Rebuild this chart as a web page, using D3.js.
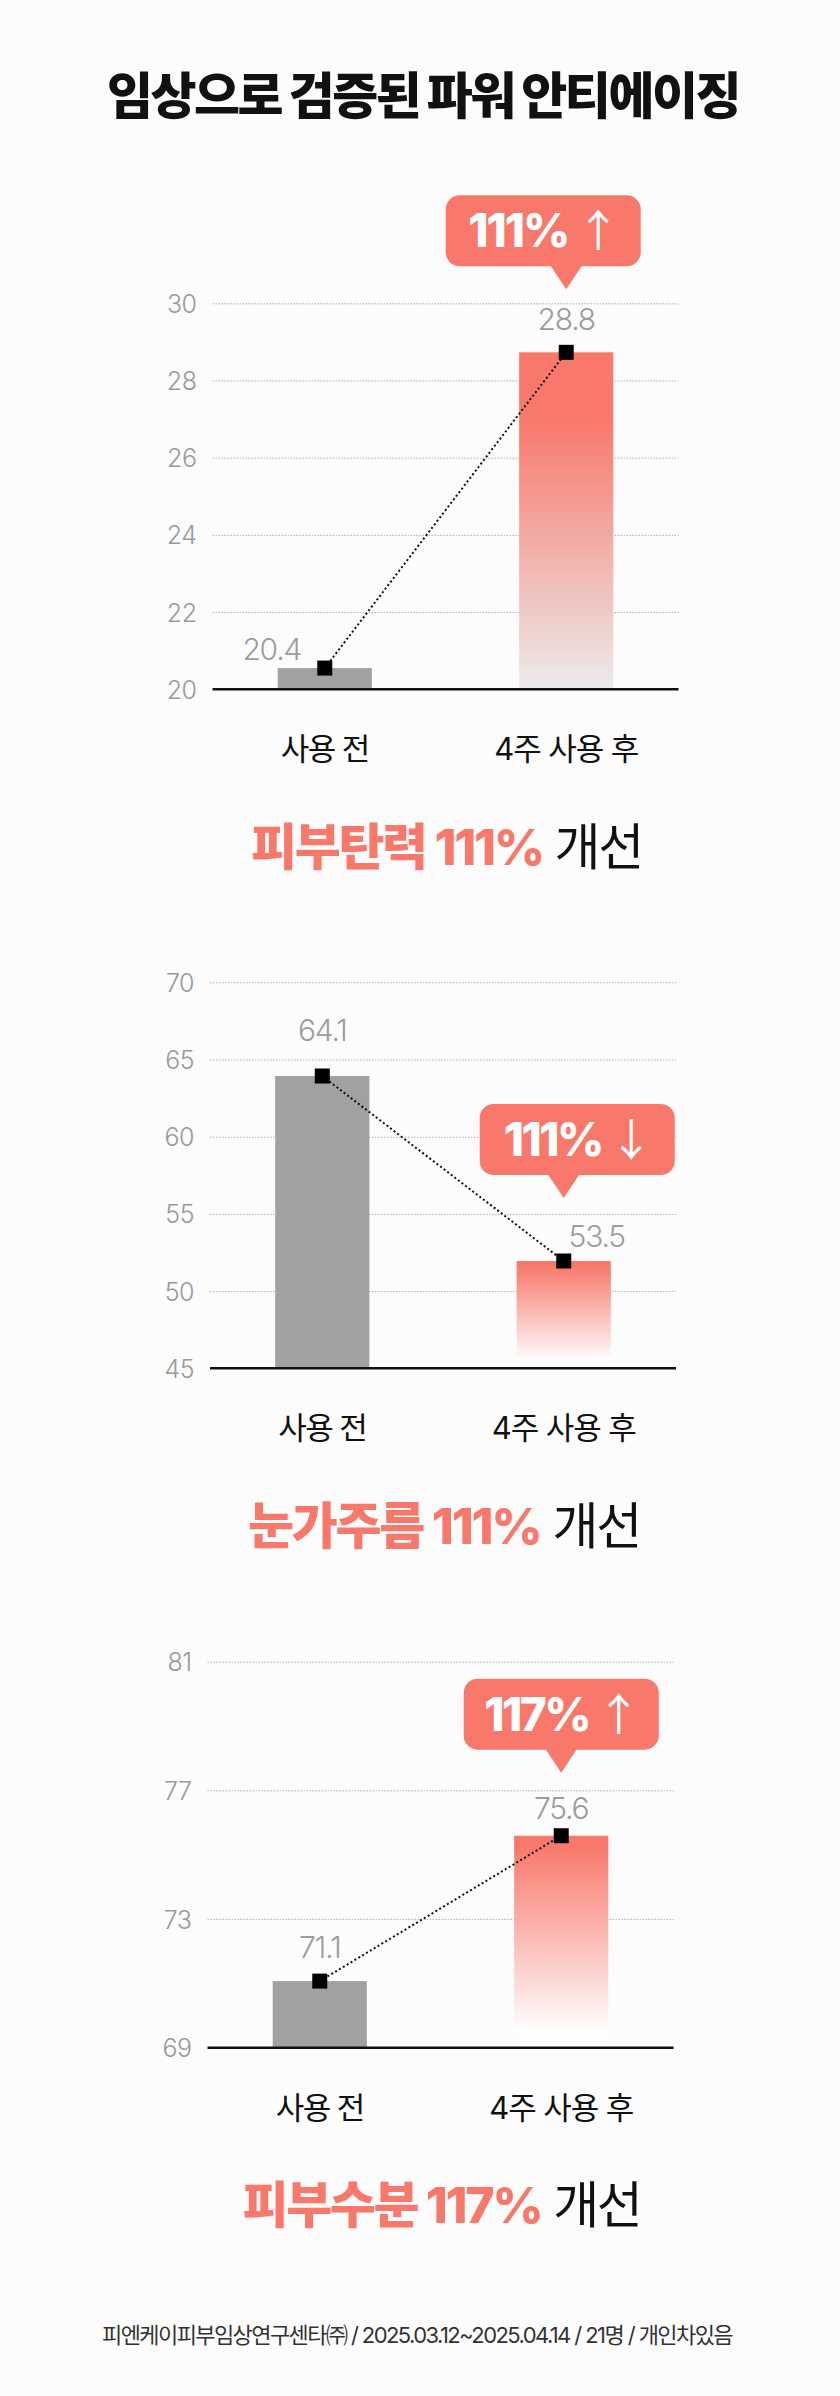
<!DOCTYPE html>
<html lang="ko">
<head>
<meta charset="utf-8">
<title>임상으로 검증된 파워 안티에이징</title>
<script src="https://cdn.jsdelivr.net/npm/d3@7"></script>
<style>
    html, body { margin: 0; padding: 0; background: #fcfcfc; }
    svg { display: block; }
</style>
</head>
<body>
<div id="chart"></div>
<script>
// ---- data ----
const mainTitle = '임상으로 검증된 파워 안티에이징';
const categories = ['사용 전', '4주 사용 후'];
const chartNames = ['피부탄력', '눈가주름', '피부수분'];
const chartRates = ['111%', '111%', '117%'];
const badgeArrows = ['↑', '↓', '↑'];
const barValues = [[20.55, 28.73], [63.93, 51.95], [71.07, 75.59]];
const valueLabels = [['20.4', '28.8'], ['64.1', '53.5'], ['71.1', '75.6']];
const yTicks = [[20, 22, 24, 26, 28, 30], [45, 50, 55, 60, 65, 70], [69, 73, 77, 81]];
const footnote = '피엔케이피부임상연구센타㈜ / 2025.03.12~2025.04.14 / 21명 / 개인차있음';

// ---- layout ----
const W = 840, H = 2396;
const CORAL = '#f8796c';
const FONT = 'Inter, "Noto Sans CJK KR", "Noto Sans", sans-serif';
const plotLeft = 210, plotRight = 676, plotH = 386;
const panels = [
    {top: 303.3, dx: 2.5, labelOff: [[-53, -19], [0, -33]], badgeDx: -23, titleW: 391, badgeW: 150,
        stops: [[0, CORAL], [0.2, CORAL], [1, '#ebebeb']]},
    {top: 982.3, dx: 0, labelOff: [[0, -46], [33, -25]], badgeDx: 13.5, titleW: 392, badgeW: 147,
        stops: [[0, CORAL], [0.05, CORAL], [0.92, '#fdfdfd']]},
    {top: 1661.7, dx: -2.5, labelOff: [[0, -34], [0, -28]], badgeDx: 0, titleW: 398, badgeW: 154,
        stops: [[0, CORAL], [0.05, CORAL], [0.92, '#fdfdfd']]}
];

const svg = d3.select('#chart')
    .append('svg')
    .attr('width', W)
    .attr('height', H);

svg.append('rect').attr('width', W).attr('height', H).attr('fill', '#fcfcfc');
const defs = svg.append('defs');

// squeeze / stretch a text element to a target width with letter-spacing
function fitWidth(sel, target) {
    const node = sel.node();
    const len = node.getComputedTextLength();
    const n = node.textContent.length;
    if (n > 1) sel.attr('letter-spacing', (target - len) / n);
    return sel;
}

// main title
fitWidth(svg.append('text')
    .attr('x', 423)
    .attr('y', 95 + 50 * 0.37)
    .attr('text-anchor', 'middle')
    .attr('font-family', FONT)
    .attr('font-size', 50)
    .attr('font-weight', 900)
    .attr('fill', '#111')
    .text(mainTitle), 632);

panels.forEach((p, i) => {
    const g = svg.append('g').attr('transform', `translate(${p.dx},0)`);
    const base = p.top + plotH;

    const x = d3.scaleBand()
        .domain(categories)
        .range([plotLeft, plotRight])
        .paddingInner(0.61)
        .paddingOuter(0.27);

    const ticks = yTicks[i];
    const y = d3.scaleLinear()
        .domain(d3.extent(ticks))
        .range([base, p.top]);

    // gradient for the "after" bar
    const grad = defs.append('linearGradient')
        .attr('id', `grad-${i}`)
        .attr('x1', 0).attr('y1', 0)
        .attr('x2', 0).attr('y2', 1);
    grad.selectAll('stop')
        .data(p.stops)
        .enter()
        .append('stop')
        .attr('offset', d => d[0])
        .attr('stop-color', d => d[1]);

    // grid lines + tick labels
    const axis = g.append('g')
        .attr('transform', `translate(${plotLeft},0)`)
        .call(d3.axisLeft(y)
            .tickValues(ticks)
            .tickSize(-(plotRight - plotLeft))
            .tickPadding(16)
            .tickFormat(d3.format('d')));
    axis.select('.domain').remove();
    axis.selectAll('.tick line')
        .attr('stroke', '#b0b0b0')
        .attr('stroke-width', 1)
        .attr('stroke-dasharray', '1.5,1.5')
        .filter(d => d === ticks[0]).remove();
    axis.selectAll('.tick text')
        .attr('font-family', FONT)
        .attr('font-size', 25)
        .attr('font-weight', 300)
        .attr('letter-spacing', -0.5)
        .attr('fill', '#999')
        .attr('dy', '0.36em');

    // bars
    g.selectAll('.bar')
        .data(categories)
        .enter()
        .append('rect')
        .attr('class', 'bar')
        .attr('x', d => x(d))
        .attr('width', x.bandwidth())
        .attr('y', (d, j) => y(barValues[i][j]))
        .attr('height', (d, j) => base - y(barValues[i][j]))
        .attr('fill', (d, j) => j === 0 ? '#a1a1a1' : `url(#grad-${i})`);

    // baseline
    g.append('line')
        .attr('x1', plotLeft).attr('x2', plotRight)
        .attr('y1', base).attr('y2', base)
        .attr('stroke', '#111')
        .attr('stroke-width', 2.5);

    // dotted connector + square markers
    const pts = categories.map((c, j) => [x(c) + x.bandwidth() / 2, y(barValues[i][j])]);
    g.append('path')
        .attr('d', d3.line()(pts))
        .attr('fill', 'none')
        .attr('stroke', '#111')
        .attr('stroke-width', 2)
        .attr('stroke-dasharray', '2,2.5');
    g.selectAll('.marker')
        .data(pts)
        .enter()
        .append('rect')
        .attr('class', 'marker')
        .attr('x', d => d[0] - 7.5)
        .attr('y', d => d[1] - 7.5)
        .attr('width', 15)
        .attr('height', 15)
        .attr('fill', '#000');

    // value labels
    g.selectAll('.value')
        .data(valueLabels[i])
        .enter()
        .append('text')
        .attr('class', 'value')
        .attr('x', (d, j) => pts[j][0] + p.labelOff[j][0])
        .attr('y', (d, j) => pts[j][1] + p.labelOff[j][1] + 30 * 0.36)
        .attr('text-anchor', 'middle')
        .attr('font-family', FONT)
        .attr('font-size', 30)
        .attr('font-weight', 300)
        .attr('letter-spacing', -1.2)
        .attr('fill', '#9c9c9c')
        .text(d => d);

    // badge with pointer
    const tipX = pts[1][0], tipY = pts[1][1] - 63;
    const bw = 195, bh = 71, cx = tipX + p.badgeDx;
    const bTop = tipY - 23 - bh;
    const badge = g.append('g');
    badge.append('rect')
        .attr('x', cx - bw / 2).attr('y', bTop)
        .attr('width', bw).attr('height', bh)
        .attr('rx', 14)
        .attr('fill', CORAL);
    badge.append('path')
        .attr('d', d3.line()([[tipX - 16, bTop + bh - 1], [tipX + 16, bTop + bh - 1], [tipX, tipY]]) + 'Z')
        .attr('fill', CORAL);
    const bt = badge.append('text')
        .attr('x', cx)
        .attr('y', bTop + bh / 2 + 46 * 0.36)
        .attr('text-anchor', 'middle')
        .attr('font-family', FONT)
        .attr('font-size', 46)
        .attr('fill', '#fff');
    bt.append('tspan').attr('font-weight', 800).text(chartRates[i] + ' ');
    bt.append('tspan')
        .attr('font-weight', 400)
        .attr('font-family', '"Noto Sans CJK KR", sans-serif')
        .attr('font-size', 44)
        .text(badgeArrows[i]);
    fitWidth(bt, p.badgeW);

    // category labels
    const xl = g.selectAll('.xlabel')
        .data(categories)
        .enter()
        .append('text')
        .attr('class', 'xlabel')
        .attr('x', d => x(d) + x.bandwidth() / 2)
        .attr('y', base + 60 + 30 * 0.36)
        .attr('text-anchor', 'middle')
        .attr('font-family', FONT)
        .attr('font-size', 31)
        .attr('fill', '#111')
        .text(d => d);
    xl.each(function(d, j) { fitWidth(d3.select(this), j === 0 ? 88 : 144); });

    // panel title
    const t = g.append('text')
        .attr('x', (plotLeft + plotRight) / 2 + 1)
        .attr('y', base + 157 + 50 * 0.37)
        .attr('text-anchor', 'middle')
        .attr('font-family', FONT)
        .attr('font-size', 50);
    t.append('tspan').attr('font-weight', 800).attr('fill', CORAL).text(chartNames[i] + ' ' + chartRates[i]);
    t.append('tspan').attr('font-weight', 400).attr('fill', '#111').text(' 개선');
    fitWidth(t, p.titleW);
});

// footnote
fitWidth(svg.append('text')
    .attr('x', 417)
    .attr('y', 2335 + 22 * 0.36)
    .attr('text-anchor', 'middle')
    .attr('font-family', FONT)
    .attr('font-size', 22)
    .attr('fill', '#333')
    .text(footnote), 630);
</script>
</body>
</html>
